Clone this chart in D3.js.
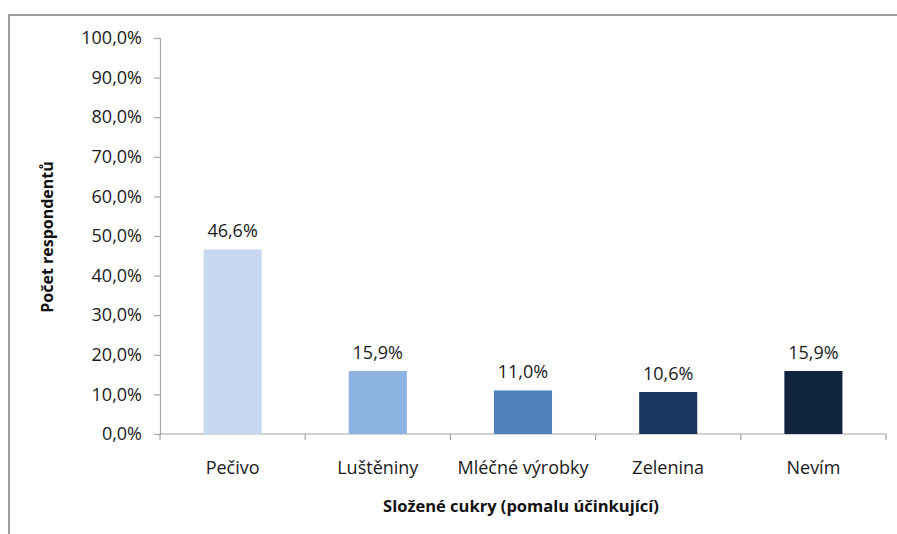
<!DOCTYPE html>
<html>
<head>
<meta charset="utf-8">
<script src="https://cdn.jsdelivr.net/npm/d3@7"></script>
<style>
  html, body { margin: 0; padding: 0; background: #fff; }
  svg { display: block; font-family: "Open Sans", "Noto Sans", sans-serif; }
</style>
</head>
<body>
<svg id="chart" width="897" height="534"></svg>
<script>
// Categories and shares of respondents (percent)
const categories = ["Pečivo", "Luštěniny", "Mléčné výrobky", "Zelenina", "Nevím"];
const values = [46.6, 15.9, 11.0, 10.6, 15.9];
const barColors = ["#c6d9f1", "#8db3e2", "#4f81bd", "#17375e", "#10243f"];
const yTicks = [0, 10, 20, 30, 40, 50, 60, 70, 80, 90, 100];
const yTitle = "Počet respondentů";
const xTitle = "Složené cukry (pomalu účinkující)";

const svg = d3.select("#chart");
const W = 897, H = 534;
const plot = { left: 160, right: 886, top: 38, bottom: 434 };
const textColor = "#1a1a1a";

// Outer frame (top and left edges visible)
svg.append("rect")
  .attr("x", 9).attr("y", 15)
  .attr("width", W + 20).attr("height", H + 20)
  .attr("fill", "#fff")
  .attr("stroke", "#868686")
  .attr("stroke-width", 1.6);

const x = d3.scaleBand()
  .domain(categories)
  .range([plot.left, plot.right])
  .paddingInner(0.6)
  .paddingOuter(0.3);

const y = d3.scaleLinear()
  .domain([0, 100])
  .range([plot.bottom, plot.top]);

const fmt = v => d3.format(".1f")(v).replace(".", ",") + "%";

// Y axis
const yAxis = svg.append("g")
  .attr("transform", `translate(${plot.left},0)`)
  .call(d3.axisLeft(y).tickValues(yTicks).tickFormat(fmt).tickSize(6).tickPadding(12));
yAxis.select(".domain").attr("stroke", "#a6a6a6").attr("stroke-width", 1.2);
yAxis.selectAll(".tick line").attr("stroke", "#a6a6a6").attr("stroke-width", 1.2);
yAxis.selectAll(".tick text")
  .attr("font-size", 18).attr("fill", textColor)
  .attr("font-family", "'Open Sans', sans-serif");

// X axis line with boundary ticks between categories
const xAxisG = svg.append("g");
xAxisG.append("line")
  .attr("x1", plot.left).attr("x2", plot.right)
  .attr("y1", plot.bottom).attr("y2", plot.bottom)
  .attr("stroke", "#a6a6a6").attr("stroke-width", 1.2);
const boundaries = d3.range(categories.length + 1).map(i => plot.left + (plot.right - plot.left) * i / categories.length);
xAxisG.selectAll("line.tk").data(boundaries).join("line")
  .attr("class", "tk")
  .attr("x1", d => d).attr("x2", d => d)
  .attr("y1", plot.bottom).attr("y2", plot.bottom + 6)
  .attr("stroke", "#a6a6a6").attr("stroke-width", 1.2);

// Category labels
svg.append("g").selectAll("text").data(categories).join("text")
  .attr("x", d => x(d) + x.bandwidth() / 2)
  .attr("y", 474)
  .attr("text-anchor", "middle")
  .attr("font-size", 18)
  .attr("fill", textColor)
  .text(d => d);

// Bars
svg.append("g").selectAll("rect").data(values).join("rect")
  .attr("x", (d, i) => x(categories[i]))
  .attr("width", x.bandwidth())
  .attr("y", d => y(d))
  .attr("height", d => y(0) - y(d))
  .attr("fill", (d, i) => barColors[i]);

// Value labels
svg.append("g").selectAll("text").data(values).join("text")
  .attr("x", (d, i) => x(categories[i]) + x.bandwidth() / 2)
  .attr("y", d => y(d) - 12)
  .attr("text-anchor", "middle")
  .attr("font-size", 18)
  .attr("fill", textColor)
  .text(fmt);

// Axis titles
svg.append("text")
  .attr("transform", "translate(53,237) rotate(-90)")
  .attr("text-anchor", "middle")
  .attr("font-size", 16)
  .attr("font-weight", "bold")
  .attr("fill", "#111")
  .text(yTitle);

svg.append("text")
  .attr("x", 521)
  .attr("y", 512)
  .attr("text-anchor", "middle")
  .attr("font-size", 16.5)
  .attr("font-weight", "bold")
  .attr("fill", "#111")
  .text(xTitle);
</script>
</body>
</html>
